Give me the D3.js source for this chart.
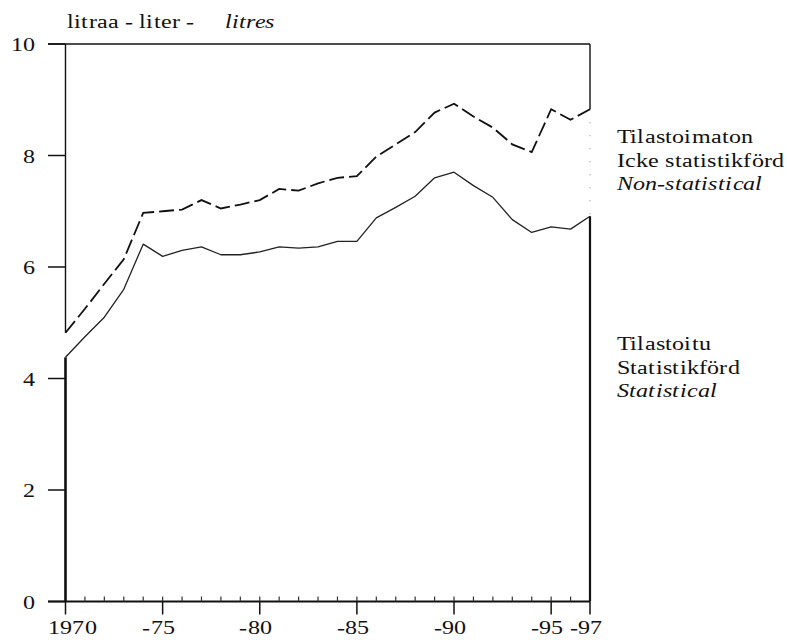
<!DOCTYPE html>
<html>
<head>
<meta charset="utf-8">
<script src="https://cdn.jsdelivr.net/npm/d3@7"></script>
<style>
  @font-face { font-family: "ChartSerif"; font-style: normal; src: local("Liberation Serif"), local("LiberationSerif"), local("Tinos"), local("Times New Roman"); }
  @font-face { font-family: "ChartSerif"; font-style: italic; src: local("Liberation Serif Italic"), local("LiberationSerif-Italic"), local("Tinos Italic"), local("Times New Roman Italic"); }
</style>
</head>
<body style="margin:0">
<div id="chart"></div>
<script>
// Data (litres per person)
var years = d3.range(1970, 1998);
var statistical = [4.38, 4.75, 5.1, 5.6, 6.41, 6.19, 6.3, 6.36, 6.22, 6.22, 6.27, 6.36, 6.34, 6.36, 6.46, 6.46, 6.88, 7.07, 7.27, 7.6, 7.7, 7.46, 7.25, 6.85, 6.62, 6.72, 6.68, 6.91];
var total = [4.82, 5.25, 5.7, 6.14, 6.97, 7.0, 7.03, 7.2, 7.05, 7.12, 7.2, 7.4, 7.37, 7.5, 7.6, 7.63, 7.98, 8.2, 8.42, 8.77, 8.93, 8.7, 8.5, 8.2, 8.06, 8.83, 8.64, 8.83];
var yTicks = [0, 2, 4, 6, 8, 10];
var xMajor = [1970, 1975, 1980, 1985, 1990, 1995, 1997];
var xLabels = ["1970", "-75", "-80", "-85", "-90", "-95", "-97"];
var unitTitle = ["litraa - liter - ", "litres"];
var labelTotal = ["Tilastoimaton", "Icke statistikförd", "Non-statistical"];
var labelStat = ["Tilastoitu", "Statistikförd", "Statistical"];

var width = 787, height = 640;
var FONT = "ChartSerif, 'Liberation Serif', serif";

var svg = d3.select("#chart").append("svg")
	.attr("width", width)
	.attr("height", height);

var x = d3.scaleLinear().domain([1970, 1997]).range([65.5, 590]);
var y = d3.scaleLinear().domain([0, 10]).range([601.5, 44]);

// the scan's lettering is wider than the font: find one factor from a sample word
var probe = svg.append("text").style("font-family", FONT).style("font-size", "20px").text(labelTotal[0]);
var widen = Math.max(1, Math.min(1.25, 136 / probe.node().getComputedTextLength()));
probe.remove();

function label(px, py, str, anchor, italic) {
	var t = svg.append("text")
		.attr("x", px).attr("y", py)
		.style("font-family", FONT)
		.style("font-size", "20px")
		.style("fill", "#111")
		.text(str);
	if (anchor) t.attr("text-anchor", anchor);
	if (italic) t.style("font-style", "italic");
	var w = t.node().getComputedTextLength();
	t.attr("textLength", w * widen).attr("lengthAdjust", "spacingAndGlyphs");
	return t;
}

// top frame line (also the 10 tick)
svg.append("line")
	.attr("x1", 48).attr("x2", x(1997))
	.attr("y1", y(10)).attr("y2", y(10))
	.attr("stroke", "#111").attr("stroke-width", 1.5);

// y axis ticks
svg.selectAll(".ytick").data(yTicks).enter().append("line")
	.attr("class", "ytick")
	.attr("x1", 48).attr("x2", x(1970))
	.attr("y1", function (d) { return y(d); })
	.attr("y2", function (d) { return y(d); })
	.attr("stroke", "#111").attr("stroke-width", 1.5);

yTicks.forEach(function (d) {
	label(35, y(d) + 7, String(d), "end");
});

// left axis: thin above the dashed start, thick below the statistical start
svg.append("line")
	.attr("x1", x(1970)).attr("x2", x(1970))
	.attr("y1", y(10)).attr("y2", y(total[0]))
	.attr("stroke", "#111").attr("stroke-width", 1.4);
svg.append("line")
	.attr("x1", x(1970)).attr("x2", x(1970))
	.attr("y1", y(statistical[0])).attr("y2", y(0))
	.attr("stroke", "#111").attr("stroke-width", 2.6);

// right axis
var last = years.length - 1;
svg.append("line")
	.attr("x1", x(1997)).attr("x2", x(1997))
	.attr("y1", y(10)).attr("y2", y(total[last]))
	.attr("stroke", "#111").attr("stroke-width", 1.4);
svg.append("line")
	.attr("x1", x(1997)).attr("x2", x(1997))
	.attr("y1", y(total[last])).attr("y2", y(statistical[last]))
	.attr("stroke", "#888").attr("stroke-width", 1)
	.attr("stroke-dasharray", "1,12");
svg.append("line")
	.attr("x1", x(1997)).attr("x2", x(1997))
	.attr("y1", y(statistical[last])).attr("y2", y(0))
	.attr("stroke", "#111").attr("stroke-width", 2.2);

// bottom axis
svg.append("line")
	.attr("x1", 48).attr("x2", x(1997))
	.attr("y1", y(0)).attr("y2", y(0))
	.attr("stroke", "#111").attr("stroke-width", 1.8);

// small yearly ticks pointing up
svg.selectAll(".minor").data(years.slice(1, -1)).enter().append("line")
	.attr("class", "minor")
	.attr("x1", function (d) { return x(d); })
	.attr("x2", function (d) { return x(d); })
	.attr("y1", y(0)).attr("y2", y(0) - 5)
	.attr("stroke", "#333").attr("stroke-width", 1.2);

// major ticks pointing down
svg.selectAll(".major").data(xMajor).enter().append("line")
	.attr("class", "major")
	.attr("x1", function (d) { return x(d); })
	.attr("x2", function (d) { return x(d); })
	.attr("y1", y(0)).attr("y2", y(0) + 13)
	.attr("stroke", "#111").attr("stroke-width", 1.5);

xMajor.forEach(function (d, i) {
	var s = xLabels[i];
	var off = s.charAt(0) === "-" ? -4 : 7;
	label(x(d) + off, 634, s, "middle");
});

// series lines
var line = d3.line()
	.x(function (d, i) { return x(years[i]); })
	.y(function (d) { return y(d); });

svg.append("path")
	.datum(statistical)
	.attr("d", line)
	.attr("fill", "none")
	.attr("stroke", "#222")
	.attr("stroke-width", 1.3)
	.attr("stroke-linejoin", "round");

svg.append("path")
	.datum(total)
	.attr("d", line)
	.attr("fill", "none")
	.attr("stroke", "#111")
	.attr("stroke-width", 1.8)
	.attr("stroke-dasharray", "15,5");

// unit title: plain part, then italic part
var t1 = label(67, 28, unitTitle[0]);
label(67 + t1.node().getComputedTextLength() * widen + 4, 28, unitTitle[1], null, true);

// series labels
labelTotal.forEach(function (s, i) {
	label(617, 143 + i * 23.5, s, null, i === 2);
});
labelStat.forEach(function (s, i) {
	label(617, 350 + i * 23.5, s, null, i === 2);
});
</script>
</body>
</html>
